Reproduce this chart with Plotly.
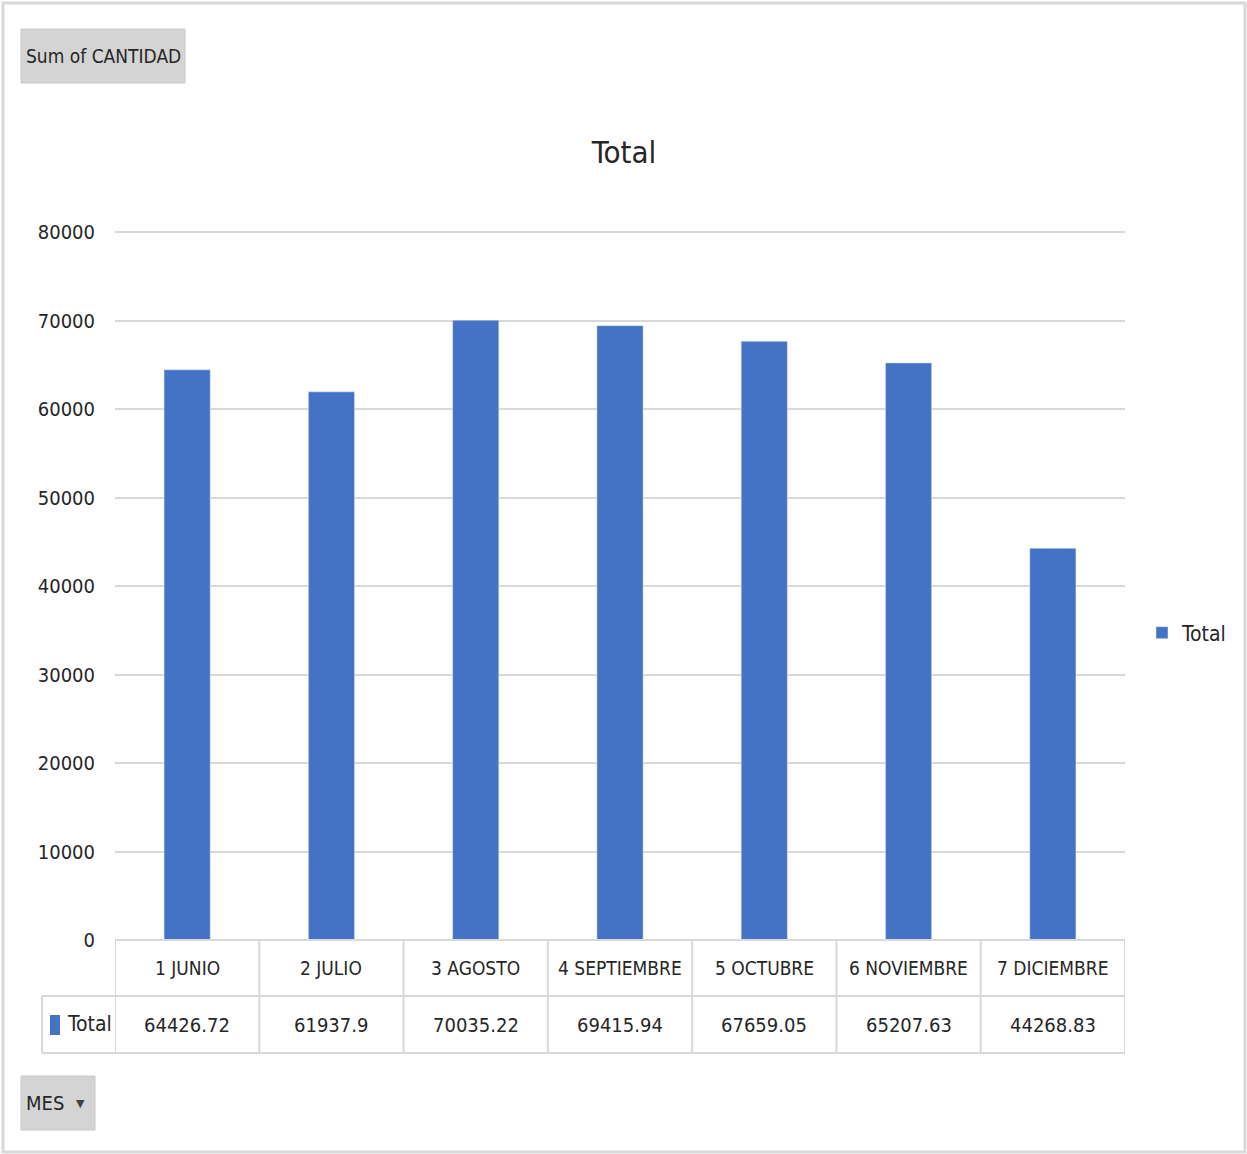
import plotly.graph_objects as go

months = ["1 JUNIO", "2 JULIO", "3 AGOSTO", "4 SEPTIEMBRE", "5 OCTUBRE", "6 NOVIEMBRE", "7 DICIEMBRE"]
totals = [64426.72, 61937.9, 70035.22, 69415.94, 67659.05, 65207.63, 44268.83]
total_labels = ["64426.72", "61937.9", "70035.22", "69415.94", "67659.05", "65207.63", "44268.83"]
y_ticks = [0, 10000, 20000, 30000, 40000, 50000, 60000, 70000, 80000]

FONT = "DejaVu Sans Condensed, DejaVu Sans, sans-serif"
BLUE = "#4472C4"
GRID = "#d9d9d9"
TXT = "#262626"

W, H = 1247, 1154
L, R, B = 115, 1125, 940
Y80 = 232          # pixel row of the 80000 gridline
T = 226            # plot-area top (a little above the top gridline so it is drawn)
YMAX = 80000 * (B - T) / (B - Y80)

def px(x):
    return (x - L) / (R - L)

def py(y):
    return (B - y) / (B - T)

def f(size, color=TXT):
    return dict(family=FONT, size=size, color=color)

fig = go.Figure()
fig.add_trace(go.Bar(x=list(range(len(months))), y=totals, name="Total", marker_color=BLUE))

shapes = []
annotations = []

# outer frame
shapes.append(dict(type="rect", xref="paper", yref="paper", x0=px(3), x1=px(1245), y0=py(1152), y1=py(3),
                   line=dict(color="#d9d9d9", width=3), fillcolor="rgba(0,0,0,0)", layer="below"))

# table lines
n = len(months)
row1_bot = py(996)
row2_bot = py(1053)
for i in range(n + 1):
    shapes.append(dict(type="line", xref="x", yref="paper", x0=i - 0.5, x1=i - 0.5, y0=row2_bot, y1=0,
                       line=dict(color=GRID, width=2)))
shapes.append(dict(type="line", xref="paper", yref="paper", x0=0, x1=1, y0=0, y1=0, line=dict(color=GRID, width=2)))
shapes.append(dict(type="line", xref="paper", yref="paper", x0=px(42), x1=1, y0=row1_bot, y1=row1_bot, line=dict(color=GRID, width=2)))
shapes.append(dict(type="line", xref="paper", yref="paper", x0=px(42), x1=1, y0=row2_bot, y1=row2_bot, line=dict(color=GRID, width=2)))
shapes.append(dict(type="line", xref="paper", yref="paper", x0=px(42), x1=px(42), y0=row2_bot, y1=row1_bot, line=dict(color=GRID, width=2)))
# legend key in table
shapes.append(dict(type="rect", xref="paper", yref="paper", x0=px(50), x1=px(60), y0=py(1035), y1=py(1015),
                   line=dict(width=0), fillcolor=BLUE))

for i, (m, v) in enumerate(zip(months, total_labels)):
    annotations.append(dict(x=i, xref="x", y=py(968), yref="paper", text=m, showarrow=False,
                            font=f(19), xanchor="center", yanchor="middle"))
    annotations.append(dict(x=i, xref="x", y=py(1025), yref="paper", text=v, showarrow=False,
                            font=f(20), xanchor="center", yanchor="middle"))
annotations.append(dict(x=px(65), xref="paper", y=py(1024), yref="paper", text="Total", showarrow=False,
                        font=f(21), xanchor="left", yanchor="middle"))

# Buttons
shapes.append(dict(type="rect", xref="paper", yref="paper", x0=px(21), x1=px(185), y0=py(83), y1=py(29),
                   line=dict(color="#c8c8c8", width=1), fillcolor="#d4d4d4"))
annotations.append(dict(x=px(24), xref="paper", y=py(56), yref="paper", text="Sum of CANTIDAD", showarrow=False,
                        font=f(19), xanchor="left", yanchor="middle"))
shapes.append(dict(type="rect", xref="paper", yref="paper", x0=px(21), x1=px(95), y0=py(1130), y1=py(1076),
                   line=dict(color="#c8c8c8", width=1), fillcolor="#d4d4d4"))
annotations.append(dict(x=px(24), xref="paper", y=py(1103), yref="paper", text="MES", showarrow=False,
                        font=f(20), xanchor="left", yanchor="middle"))
annotations.append(dict(x=px(80), xref="paper", y=py(1103), yref="paper", text="▼", showarrow=False,
                        font=dict(family="DejaVu Sans", size=11, color="#404040"), xanchor="center", yanchor="middle"))

fig.update_layout(
    width=W, height=H,
    margin=dict(l=L, r=W - R, t=T, b=H - B, pad=0, autoexpand=False),
    paper_bgcolor="white", plot_bgcolor="white",
    bargap=0.68,
    title=dict(text="Total", x=624 / W, xanchor="center", y=1 - 152 / H, yanchor="middle",
               font=f(31)),
    xaxis=dict(range=[-0.5, n - 0.5], showticklabels=False, showgrid=False, zeroline=False, showline=False,
               tickmode="array", tickvals=list(range(n)), ticks=""),
    yaxis=dict(range=[0, YMAX], tickvals=y_ticks, tickformat="d", showgrid=True, gridcolor=GRID, gridwidth=2,
               zeroline=False, showline=False, ticks="", ticklabelstandoff=19,
               tickfont=f(20)),
    showlegend=True,
    legend=dict(x=px(1142), y=py(633), xanchor="left", yanchor="middle",
                font=f(21), bgcolor="rgba(0,0,0,0)", itemwidth=30),
    shapes=shapes, annotations=annotations,
)

fig.write_html("out.html")
